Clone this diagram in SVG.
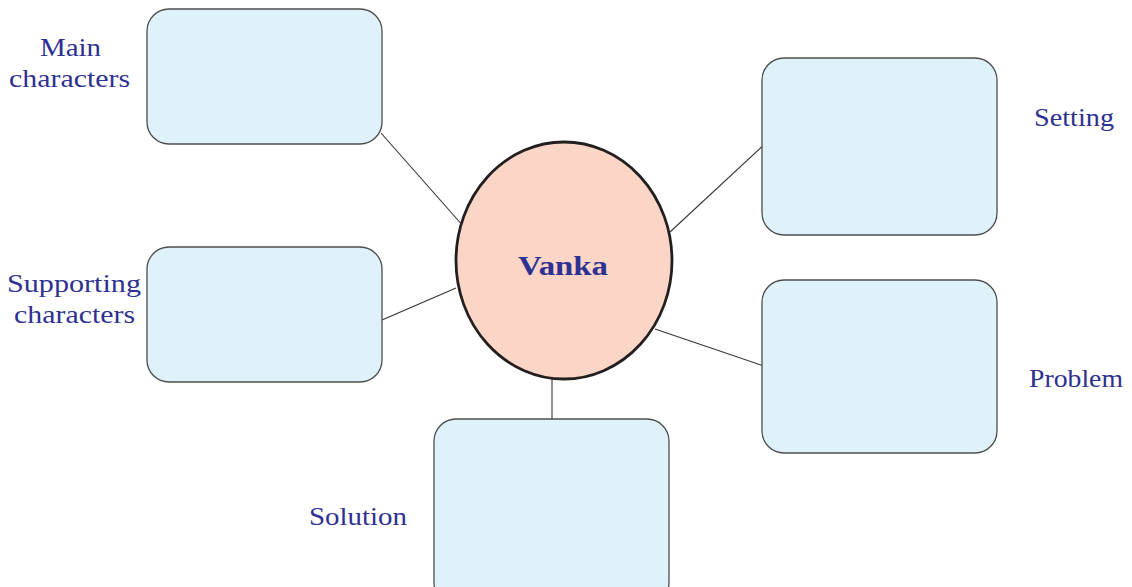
<svg xmlns="http://www.w3.org/2000/svg" width="1132" height="587" viewBox="0 0 1132 587">
<style>
.box{fill:#dff2fa;stroke:#4d4d4d;stroke-width:1.3}
.lbl{font-family:"Liberation Serif","DejaVu Serif",serif;font-size:26px;fill:#2e3192}
.conn line{stroke:#333;stroke-width:1.1}
</style>
<rect width="1132" height="587" fill="#ffffff"/>
<g id="connectors" class="conn">
<line x1="381" y1="133" x2="464" y2="227"/>
<line x1="382" y1="320" x2="456" y2="288"/>
<line x1="670" y1="232" x2="766" y2="143"/>
<line x1="655" y1="329" x2="764" y2="366"/>
<line x1="552" y1="379" x2="552" y2="419"/>
</g>
<g id="main-characters">
<rect class="box" x="147" y="9" width="235" height="135" rx="22"/>
<text class="lbl" x="40" y="56" textLength="61" lengthAdjust="spacingAndGlyphs">Main</text>
<text class="lbl" x="9" y="87" textLength="121" lengthAdjust="spacingAndGlyphs">characters</text>
</g>
<g id="supporting-characters">
<rect class="box" x="147" y="247" width="235" height="135" rx="22"/>
<text class="lbl" x="7" y="292" textLength="134" lengthAdjust="spacingAndGlyphs">Supporting</text>
<text class="lbl" x="14" y="323" textLength="121" lengthAdjust="spacingAndGlyphs">characters</text>
</g>
<g id="setting">
<rect class="box" x="762" y="58" width="235" height="177" rx="22"/>
<text class="lbl" x="1034" y="126" textLength="80" lengthAdjust="spacingAndGlyphs">Setting</text>
</g>
<g id="problem">
<rect class="box" x="762" y="280" width="235" height="173" rx="22"/>
<text class="lbl" x="1029" y="387" textLength="94" lengthAdjust="spacingAndGlyphs">Problem</text>
</g>
<g id="solution">
<rect class="box" x="434" y="419" width="235" height="185" rx="22"/>
<text class="lbl" x="309" y="525" textLength="98" lengthAdjust="spacingAndGlyphs">Solution</text>
</g>
<g id="vanka">
<ellipse cx="564" cy="260.5" rx="108" ry="118.5" fill="#fbd5c5" stroke="#231f20" stroke-width="2.8"/>
<text x="518" y="275" font-family="'Liberation Serif','DejaVu Serif',serif" font-size="27" font-weight="bold" fill="#2e3192" textLength="90" lengthAdjust="spacingAndGlyphs">Vanka</text>
</g>
</svg>
